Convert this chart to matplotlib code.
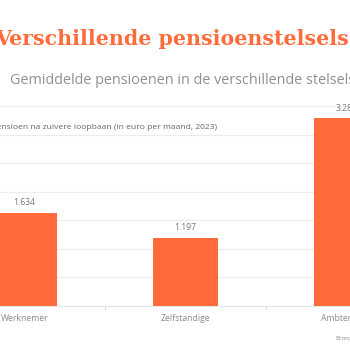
import matplotlib
import matplotlib.pyplot as plt

matplotlib.use("Agg")

categories = ["Werknemer", "Zelfstandige", "Ambtenaren"]
pensioen = [1634, 1197, 3284]
labels = ["1.634", "1.197", "3.284"]
y_ticks = [0, 500, 1000, 1500, 2000, 2500, 3000, 3500]

orange = "#ff6b3b"
grey_text = "#8a8a8a"

plt.rcParams['font.family'] = ['Open Sans', 'DejaVu Sans']

fig = plt.figure(figsize=(3.5, 3.5), dpi=100)
ax = fig.add_axes([-0.16, 0.1257, 1.38, 0.5714])

x = range(len(categories))
ax.bar(x, pensioen, width=0.40, color=orange, zorder=3)
for xi, v, lab in zip(x, pensioen, labels):
    ax.text(xi, v + 90, lab, ha='center', va='bottom', fontsize=6.2, color="#777777")

ax.set_xlim(-0.5, 2.5)
ax.set_ylim(0, 3500)
ax.set_yticks(y_ticks)
ax.yaxis.grid(True, color="#ececec", lw=0.8, zorder=0)
ax.tick_params(axis='y', length=0, labelleft=False)
ax.set_xticks(list(x))
ax.set_xticklabels(categories, fontsize=6.2, color=grey_text)
ax.tick_params(axis='x', length=0, pad=6)
ax.set_xticks([0.5, 1.5], minor=True)
ax.tick_params(axis='x', which='minor', length=3, color="#dddddd", width=0.8)
for side in ['top', 'right', 'left']:
    ax.spines[side].set_visible(False)
ax.spines['bottom'].set_color("#e6e6e6")
ax.spines['bottom'].set_linewidth(0.8)

fig.text(0.62, 1 - 128 / 350, "Gemiddeld pensioen na zuivere loopbaan (in euro per maand, 2023)",
         ha='right', va='center', fontsize=6.1, color="#666666")

fig.text(-0.015, 1 - 39 / 350, "Verschillende pensioenstelsels", fontsize=14.8,
         fontweight='bold', family='DejaVu Serif', color=orange, va='center')
fig.text(0.028, 1 - 81 / 350, "Gemiddelde pensioenen in de verschillende stelsels",
         fontsize=10.4, color="#909090", va='center')
fig.text(0.957, 1 - 339 / 350, "Bron:", fontsize=4.5, color=grey_text, va='center')

fig.savefig("out.png", dpi=100)
